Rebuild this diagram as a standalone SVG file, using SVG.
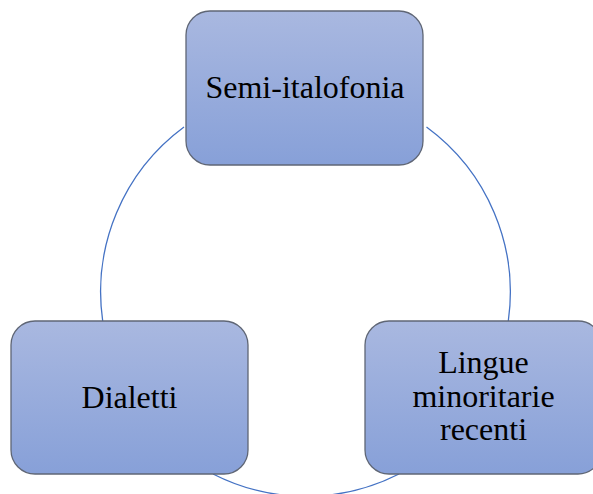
<svg xmlns="http://www.w3.org/2000/svg" width="593" height="494" viewBox="0 0 593 494">
<defs>
<linearGradient id="g" x1="0" y1="0" x2="0" y2="1">
<stop offset="0" stop-color="#a9b8e0"/>
<stop offset="1" stop-color="#87a0d8"/>
</linearGradient>
<style>
.box{fill:url(#g);stroke:#5f6675;stroke-width:1.3}
.lbl{font-family:"Liberation Serif","Times New Roman",serif;font-size:32px;fill:#000;text-anchor:middle}
.arc{fill:none;stroke:#4472c4;stroke-width:1.3}
</style>
</defs>
<rect width="593" height="494" fill="#fff"/>
<g id="connectors">
<path class="arc" d="M102.7 321 A205 205 0 0 1 184 127"/>
<path class="arc" d="M426.5 127 A205 205 0 0 1 508.3 321"/>
<path class="arc" d="M399 474 A205 205 0 0 1 213 474"/>
</g>
<g id="node-semi">
<rect class="box" x="186" y="11" width="237" height="154" rx="24"/>
<text class="lbl" x="305" y="98">Semi-italofonia</text>
</g>
<g id="node-dialetti">
<rect class="box" x="11" y="321" width="237" height="153" rx="24"/>
<text class="lbl" x="129.5" y="408">Dialetti</text>
</g>
<g id="node-lingue">
<rect class="box" x="365" y="321" width="237" height="153" rx="24"/>
<text class="lbl" x="483.5" y="373">Lingue</text>
<text class="lbl" x="483.5" y="407">minoritarie</text>
<text class="lbl" x="483.5" y="440">recenti</text>
</g>
</svg>
